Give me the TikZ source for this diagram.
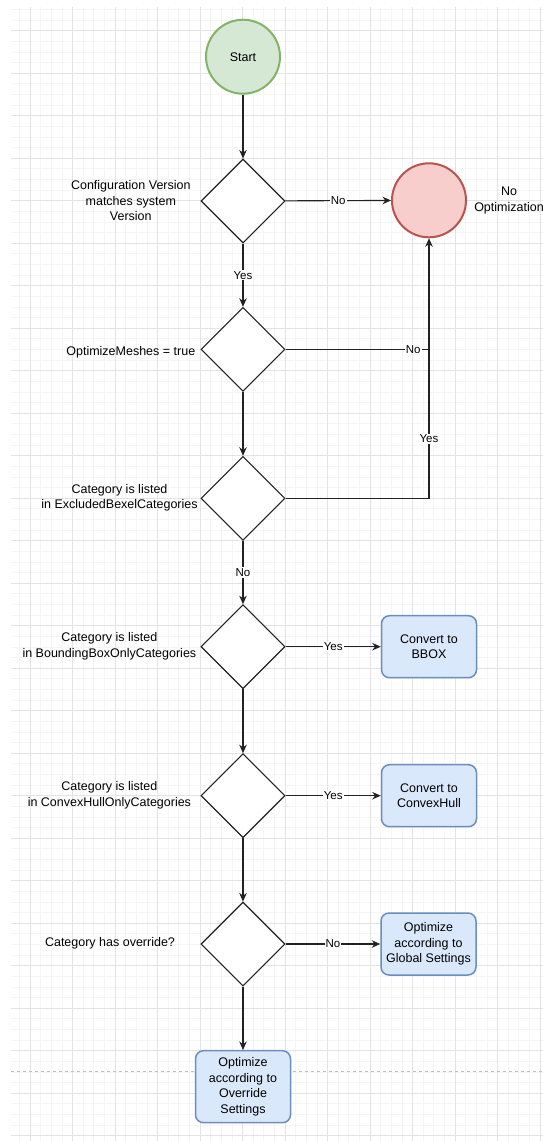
\documentclass[tikz,border=0pt]{standalone}
\usepackage{fontspec}
\setmainfont{Liberation Sans}
\definecolor{startfill}{HTML}{D5E8D4}
\definecolor{startline}{HTML}{82B366}
\definecolor{stopfill}{HTML}{F8CECC}
\definecolor{stopline}{HTML}{B85450}
\definecolor{procfill}{HTML}{DAE8FC}
\definecolor{procline}{HTML}{6C8EBF}
\definecolor{edgecol}{HTML}{222222}
\usetikzlibrary{shapes.geometric, arrows.meta}
\tikzset{
    startnode/.style={
        circle,
        draw=startline,
        fill=startfill,
        line width=2pt,
        minimum size=74pt,
        inner sep=0pt,
        font=\fontsize{12.5}{15}\selectfont
    },
    stopnode/.style={
        circle,
        draw=stopline,
        fill=stopfill,
        line width=2pt,
        minimum size=74pt,
        inner sep=0pt
    },
    decision/.style={
        diamond,
        draw=edgecol,
        fill=white,
        line width=1.1pt,
        minimum width=84pt,
        minimum height=84pt,
        inner sep=0pt
    },
    procbox/.style={
        rectangle,
        draw=procline,
        fill=procfill,
        line width=1.5pt,
        rounded corners=8pt,
        minimum width=95pt,
        minimum height=62pt,
        align=center,
        font=\fontsize{12.5}{15.5}\selectfont
    },
    sidelabel/.style={align=center, inner sep=0pt, font=\fontsize{12.5}{15.5}\selectfont},
    edgelabel/.style={fill=white, inner sep=1pt, font=\fontsize{11.5}{13}\selectfont},
    linestyle/.style={draw=edgecol, line width=1.1pt},
    arrowstyle/.style={linestyle, -{Stealth[length=8.5pt, width=7.5pt]}},
    minorgrid/.style={draw=black!4, line width=0.7pt},
    majorgrid/.style={draw=black!11, line width=0.8pt}
}

\begin{document}
\begin{tikzpicture}[x=1pt, y=-1pt]
          \useasboundingbox (0,0) rectangle (543,1141);
          % background grid
          \foreach \k in {-1,...,48} {
            \pgfmathsetmacro\gx{30+10.625*\k}
            \draw[minorgrid] (\gx,7) -- (\gx,1141);
          }
          \foreach \k in {-2,...,104} {
            \pgfmathsetmacro\gy{30.7+10.625*\k}
            \draw[minorgrid] (11,\gy) -- (543,\gy);
          }
          \foreach \k in {0,...,12} {
            \pgfmathsetmacro\gx{30+42.5*\k}
            \draw[majorgrid] (\gx,7) -- (\gx,1141);
          }
          \foreach \k in {0,...,26} {
            \pgfmathsetmacro\gy{30.7+42.5*\k}
            \draw[majorgrid] (11,\gy) -- (543,\gy);
          }
          \draw[draw=black!25, line width=0.8pt, dash pattern=on 3pt off 3pt] (11,1071.7) -- (543,1071.7);

          \node[startnode] (start) at (243,56.7) {Start};
          \node[decision] (dver) at (243,201) {};
          \node[stopnode] (noopt) at (429,200.3) {};
          \node[sidelabel] (lnoopt) at (509,200.5) {No\\Optimization};
          \node[decision] (dmesh) at (243,349.3) {};
          \node[decision] (dexcl) at (243,498.3) {};
          \node[decision] (dbbox) at (243,646.7) {};
          \node[decision] (dhull) at (243,795.7) {};
          \node[decision] (dover) at (243,944) {};
          \node[procbox] (bbox) at (429,646.7) {Convert to\\BBOX};
          \node[procbox] (hull) at (429,795.7) {Convert to\\ConvexHull};
          \node[procbox] (glob) at (428.5,944) {Optimize\\according to\\Global Settings};
          \node[procbox, minimum height=72pt] (over) at (243,1086.7) {Optimize\\according to\\Override\\Settings};

          \node[sidelabel] (lver) at (130.8,201) {Configuration Version\\matches system\\Version};
          \node[sidelabel] (lmesh) at (130.8,352) {OptimizeMeshes = true};
          \node[sidelabel] (lexcl) at (119.5,498) {Category is listed\\in ExcludedBexelCategories};
          \node[sidelabel] (lbbox) at (109.4,646.5) {Category is listed\\in BoundingBoxOnlyCategories};
          \node[sidelabel] (lhull) at (109.4,795.3) {Category is listed\\in ConvexHullOnlyCategories};
          \node[sidelabel] (lover) at (110,943.5) {Category has override?};

          \coordinate (jmesh) at (noopt |- dmesh);

          \draw[arrowstyle] (start) -- (dver);
          \draw[arrowstyle] (dver) -- node[edgelabel] {No} (noopt);
          \draw[arrowstyle] (dver) -- node[edgelabel] {Yes} (dmesh);
          \draw[linestyle] (dmesh) -- node[edgelabel, pos=0.89] {No} (jmesh);
          \draw[arrowstyle] (dmesh) -- (dexcl);
          \draw[arrowstyle] (dexcl) -| node[edgelabel, pos=0.614] {Yes} (noopt);
          \draw[arrowstyle] (dexcl) -- node[edgelabel] {No} (dbbox);
          \draw[arrowstyle] (dbbox) -- node[edgelabel] {Yes} (bbox);
          \draw[arrowstyle] (dbbox) -- (dhull);
          \draw[arrowstyle] (dhull) -- node[edgelabel] {Yes} (hull);
          \draw[arrowstyle] (dhull) -- (dover);
          \draw[arrowstyle] (dover) -- node[edgelabel] {No} (glob);
          \draw[arrowstyle] (dover) -- (over);
        \end{tikzpicture}
\end{document}
